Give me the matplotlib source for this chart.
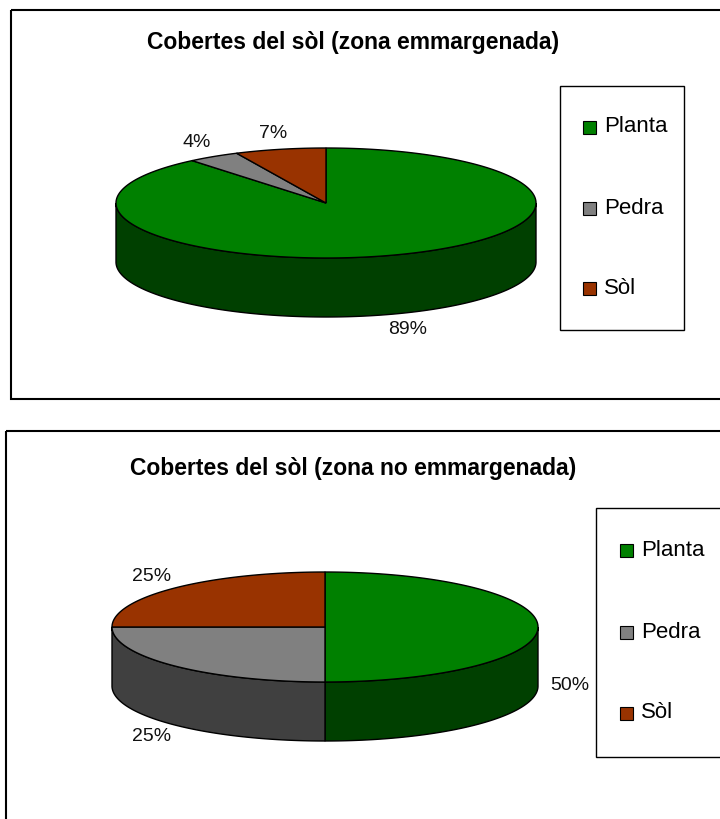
import numpy as np
import matplotlib.pyplot as plt
from matplotlib.patches import Polygon, Rectangle

categories = ["Planta", "Pedra", "Sòl"]
emmargenada = [89, 4, 7]
no_emmargenada = [50, 25, 25]
titles = ["Cobertes del sòl (zona emmargenada)",
          "Cobertes del sòl (zona no emmargenada)"]

top_colors = ["#008000", "#808080", "#993300"]
side_colors = ["#004000", "#404040", "#4d1a00"]

plt.rcParams['font.family'] = ['Liberation Sans', 'DejaVu Sans']


def arc(cx, cy, rx, ry, a0, a1, dy=0):
    n = max(int(abs(a1 - a0) * 2), 2)
    t = np.radians(np.linspace(a0, a1, n))
    return np.column_stack([cx + rx * np.cos(t), cy - ry * np.sin(t) + dy])


def pie3d(ax, values, cx, cy, rx, ry, depth):
    vals = np.asarray(values, float)
    frac = vals / vals.sum()
    # sectors go clockwise starting at 12 o'clock
    ends = 90 - 360 * np.cumsum(frac)
    starts = ends + 360 * frac

    # front walls of the disc
    for lo, hi, col in zip(ends, starts, side_colors):
        for k in (-1, 0, 1):
            a = max(lo, -180 + 360 * k)
            b = min(hi, 360 * k)
            if b > a:
                top = arc(cx, cy, rx, ry, a, b)
                bot = arc(cx, cy, rx, ry, b, a, depth)
                ax.add_patch(Polygon(np.vstack([top, bot]), closed=True,
                                     fc=col, ec='black', lw=1))

    # top faces
    for lo, hi, col in zip(ends, starts, top_colors):
        pts = np.vstack([[cx, cy], arc(cx, cy, rx, ry, hi, lo)])
        ax.add_patch(Polygon(pts, closed=True, fc=col, ec='black', lw=1))

    # percentage labels
    for lo, hi, f in zip(ends, starts, frac):
        m = np.radians((lo + hi) / 2)
        x = cx + 1.15 * rx * np.cos(m)
        y = cy - 1.3 * ry * np.sin(m)
        if np.sin(m) < 1e-6:
            y += depth
        ax.text(x, y, f"{f * 100:.0f}%", ha='center', va='center',
                fontsize=14, color='#111111')


def legend_box(ax, x0, y0, x1, y1, sq_x, ys):
    ax.add_patch(Rectangle((x0, y0), x1 - x0, y1 - y0, fc='white',
                           ec='black', lw=1))
    for cat, col, y in zip(categories, top_colors, ys):
        ax.add_patch(Rectangle((sq_x, y - 6.5), 13, 13, fc=col,
                               ec='black', lw=0.8))
        ax.text(sq_x + 21, y, cat, ha='left', va='center', fontsize=16)


fig = plt.figure(figsize=(7.2, 8.19), dpi=100)
ax = fig.add_axes([0, 0, 1, 1])
ax.set_xlim(0, 720)
ax.set_ylim(819, 0)
ax.axis('off')

# outer chart frames
ax.add_patch(Rectangle((10.5, 9.5), 730, 389, fc='none', ec='black', lw=1.5))
ax.add_patch(Rectangle((5.5, 430.5), 730, 400, fc='none', ec='black', lw=1.5))

# upper chart
ax.text(353, 43, titles[0], ha='center', va='center', fontsize=16.5,
        weight='bold')
pie3d(ax, emmargenada, 326, 203, 210, 55, 59)
legend_box(ax, 560, 86, 684, 330, 583, [127, 208, 288])

# lower chart
ax.text(353, 468, titles[1], ha='center', va='center', fontsize=16.5,
        weight='bold')
pie3d(ax, no_emmargenada, 325, 627, 213, 55, 59)
legend_box(ax, 596, 508, 740, 757, 620, [550, 632, 713])

fig.savefig("out.png", dpi=100)
